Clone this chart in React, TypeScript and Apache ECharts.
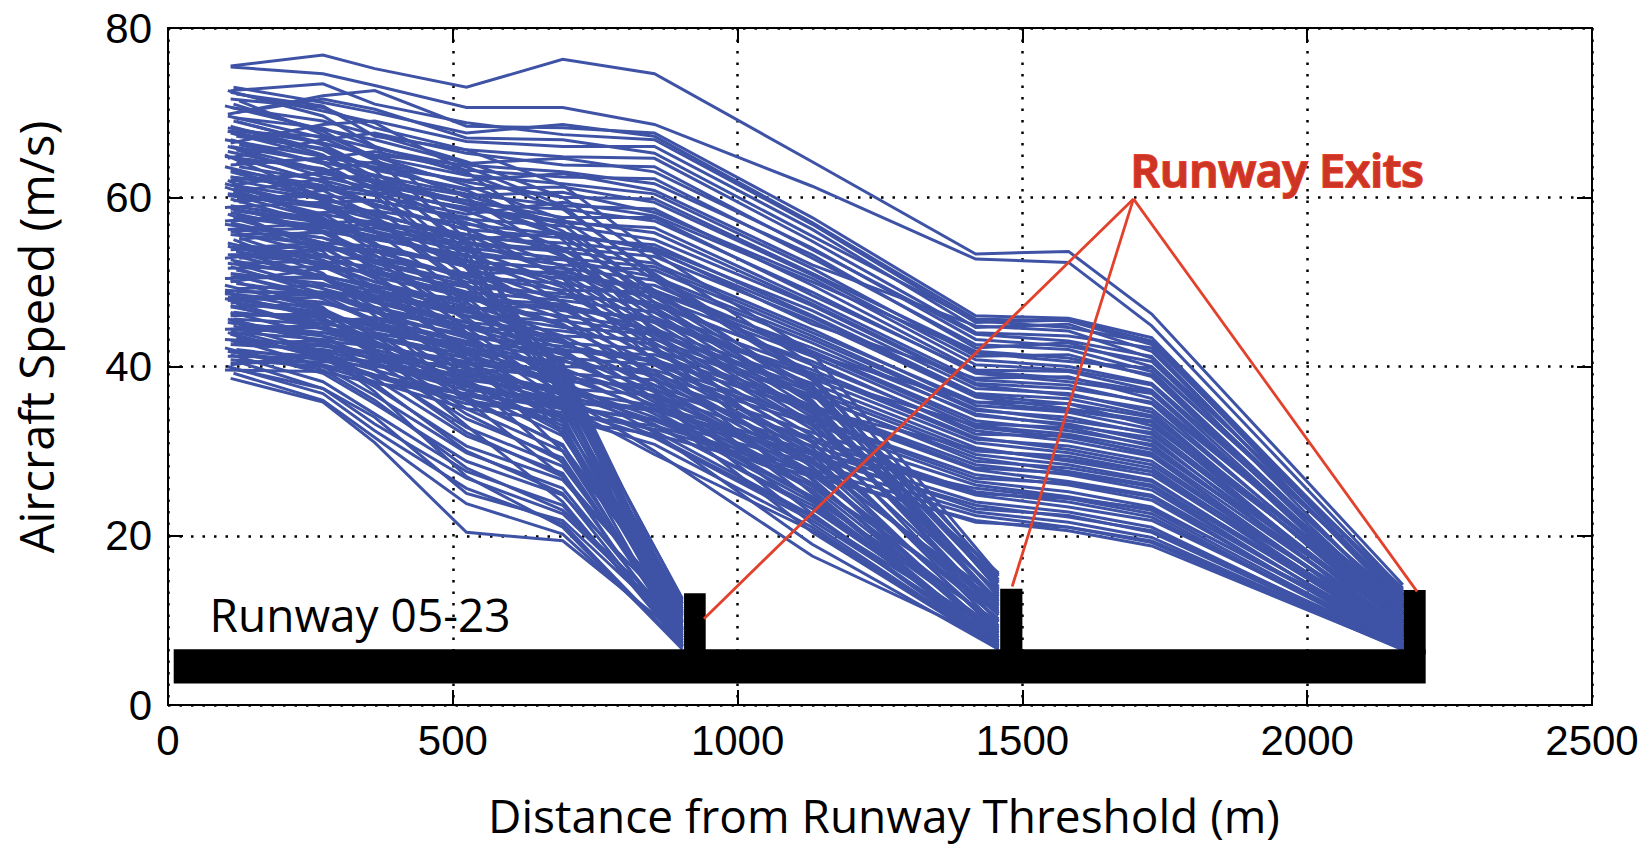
import React, { useEffect, useRef } from "react";
import * as echarts from "echarts";

// ---------- axis ticks ----------
const X_MIN = 0;
const X_MAX = 2500;
const X_STEP = 500;
const Y_MIN = 0;
const Y_MAX = 80;
const Y_STEP = 20;

// ---------- sampled distances (m) ----------
const EXIT1_STEPS = [272, 363, 524, 693];
const EXIT1_END = 903;
const EXIT2_STEPS = [272, 363, 524, 693, 854, 1131];
const EXIT2_END = 1458;
const EXIT3_STEPS = [272, 363, 524, 693, 854, 1131, 1418, 1581, 1727];
const EXIT3_END = 2168;

// rows: [start distance, start speed, speeds at steps..., speed at exit]
const EXIT1_RUNS = [
  [110, 38.6, 35.8, 31.0, 20.4, 19.4, 8.0],
  [115, 39.2, 36.0, 31.6, 23.8, 20.2, 7.2],
  [105, 40.0, 36.8, 32.4, 25.6, 21.4, 6.8],
  [120, 40.6, 37.4, 33.2, 26.8, 22.6, 9.0],
  [110, 41.4, 38.2, 34.4, 27.6, 23.6, 7.6],
  [100, 42.2, 39.2, 35.6, 28.8, 24.8, 10.2],
  [125, 43.0, 40.0, 36.6, 29.8, 25.6, 8.4],
  [110, 43.8, 41.0, 37.6, 30.6, 26.6, 11.0],
  [115, 44.8, 41.8, 38.6, 31.8, 27.4, 7.0],
  [105, 45.6, 42.8, 39.6, 32.8, 28.2, 9.6],
  [110, 46.4, 43.6, 40.6, 33.8, 29.2, 8.2],
  [120, 47.4, 44.6, 41.8, 35.0, 30.0, 11.8],
  [110, 48.4, 45.6, 42.8, 36.0, 30.8, 7.4],
  [100, 49.6, 46.8, 44.0, 37.2, 31.8, 10.6],
  [115, 50.8, 48.0, 45.2, 38.4, 32.6, 8.8],
  [125, 52.0, 49.2, 46.6, 39.6, 33.4, 12.2],
  [110, 53.2, 50.6, 47.8, 40.8, 34.2, 7.8],
  [105, 54.6, 51.8, 49.2, 42.0, 35.0, 9.2],
  [110, 56.0, 53.2, 50.4, 43.4, 35.8, 11.4],
  [120, 57.4, 54.6, 51.8, 44.6, 36.6, 6.9],
  [110, 58.8, 56.0, 53.2, 45.8, 37.4, 10.0],
  [115, 60.2, 57.4, 54.6, 47.0, 38.2, 8.6],
  [100, 61.6, 58.8, 56.0, 48.2, 39.0, 12.4],
  [110, 63.0, 60.2, 57.4, 49.4, 39.6, 7.6],
  [125, 64.6, 61.8, 58.8, 50.6, 40.0, 9.8],
  [105, 66.0, 63.2, 60.2, 51.6, 38.0, 11.2],
  [110, 67.6, 64.8, 61.6, 52.8, 36.4, 8.0],
  [120, 69.0, 66.2, 63.2, 53.6, 34.8, 10.4],
  [110, 46.0, 46.2, 43.0, 38.0, 33.0, 9.0],
  [115, 55.0, 51.0, 46.0, 36.0, 27.0, 7.3],
  [105, 62.0, 57.0, 51.0, 41.0, 30.0, 8.4],
  [110, 50.2, 47.0, 42.0, 33.0, 24.0, 7.0],
  [120, 58.0, 53.6, 48.0, 38.6, 28.6, 9.4],
  [100, 65.0, 60.0, 54.0, 44.0, 32.0, 10.8],
  [110, 44.2, 41.6, 37.0, 27.0, 21.0, 6.6],
  [115, 71.0, 67.8, 64.6, 55.0, 37.0, 12.0],
  [110, 39.8, 37.4, 34.0, 25.0, 21.8, 8.6],
  [105, 41.8, 39.6, 36.0, 28.0, 23.0, 9.6],
  [120, 43.4, 41.4, 38.0, 30.0, 25.0, 7.4],
  [110, 45.2, 43.0, 39.8, 32.2, 27.0, 10.8],
  [115, 47.0, 45.0, 41.4, 34.4, 28.8, 8.0],
  [100, 48.8, 46.6, 43.6, 36.4, 30.6, 11.6],
  [125, 50.6, 48.4, 45.4, 38.2, 32.2, 7.2],
  [110, 52.6, 50.4, 47.0, 40.0, 33.8, 9.8],
  [105, 54.2, 52.0, 49.0, 41.8, 35.4, 12.0],
  [120, 56.4, 54.0, 50.8, 43.8, 36.8, 8.2],
  [110, 58.2, 55.8, 52.6, 45.4, 38.0, 10.6],
  [115, 60.6, 58.0, 54.6, 47.6, 39.2, 7.0],
  [100, 63.6, 60.8, 57.8, 49.8, 40.4, 11.0],
  [110, 66.8, 64.0, 60.8, 52.0, 39.4, 9.0],
  [120, 68.2, 65.6, 62.4, 54.4, 38.6, 12.6],
  [105, 72.6, 69.6, 66.0, 56.4, 36.0, 8.8],
];

const EXIT2_RUNS = [
  [110, 70.6, 69.0, 67.4, 64.2, 60.0, 52.4, 40.2, 14.8],
  [115, 69.4, 68.2, 66.0, 62.8, 58.6, 51.0, 39.0, 13.6],
  [105, 68.2, 66.4, 64.8, 61.4, 57.4, 50.2, 38.4, 15.2],
  [120, 67.2, 65.8, 63.4, 60.8, 56.0, 49.0, 37.2, 12.8],
  [110, 66.0, 64.2, 62.6, 59.2, 55.4, 48.2, 36.8, 14.0],
  [100, 64.8, 63.4, 61.2, 58.4, 54.0, 47.0, 35.6, 11.8],
  [125, 63.6, 62.0, 60.4, 57.0, 53.2, 46.4, 35.0, 13.2],
  [110, 62.4, 61.2, 59.0, 56.2, 51.8, 45.2, 34.0, 10.8],
  [115, 61.4, 59.8, 58.2, 54.8, 51.0, 44.6, 33.4, 12.4],
  [105, 60.2, 58.8, 56.6, 54.0, 49.8, 43.4, 32.6, 9.8],
  [110, 59.0, 57.4, 55.8, 52.6, 48.8, 42.8, 31.8, 11.6],
  [120, 57.8, 56.6, 54.4, 51.8, 47.6, 41.8, 31.2, 9.2],
  [100, 56.8, 55.2, 53.6, 50.4, 46.8, 41.0, 30.4, 10.6],
  [110, 55.6, 54.4, 52.2, 49.6, 45.6, 40.2, 29.6, 8.6],
  [125, 54.4, 53.0, 51.4, 48.2, 44.8, 39.4, 29.0, 12.0],
  [115, 53.2, 52.2, 50.0, 47.4, 43.6, 38.6, 28.2, 8.0],
  [105, 52.2, 50.8, 49.2, 46.0, 42.8, 37.8, 27.6, 10.2],
  [110, 51.0, 49.8, 47.8, 45.2, 41.6, 37.0, 26.8, 7.6],
  [120, 49.8, 48.6, 47.0, 44.0, 40.8, 36.2, 26.2, 9.4],
  [100, 48.6, 47.6, 45.6, 43.0, 39.8, 35.4, 25.4, 7.2],
  [110, 47.6, 46.2, 44.8, 41.8, 38.8, 34.8, 24.6, 8.8],
  [115, 46.4, 45.4, 43.4, 41.0, 37.8, 34.0, 24.0, 7.0],
  [105, 45.2, 44.0, 42.6, 39.8, 36.8, 33.2, 23.2, 8.2],
  [125, 44.0, 43.2, 41.2, 38.8, 35.8, 32.4, 22.4, 6.8],
  [110, 43.0, 41.8, 40.4, 37.6, 35.0, 31.6, 21.8, 7.8],
  [120, 42.0, 40.8, 39.0, 36.6, 34.0, 30.8, 21.0, 6.6],
  [110, 72.4, 70.2, 68.8, 63.0, 55.0, 44.0, 28.0, 7.4],
  [105, 65.4, 63.0, 61.8, 56.4, 50.4, 40.6, 25.0, 6.9],
  [115, 58.4, 57.0, 56.0, 52.0, 46.0, 37.0, 22.6, 7.1],
  [100, 50.4, 50.6, 49.6, 46.6, 42.0, 35.0, 20.4, 6.7],
  [110, 46.2, 46.0, 45.0, 42.2, 38.0, 32.2, 19.0, 6.6],
  [120, 44.6, 43.6, 42.4, 40.4, 36.6, 30.0, 17.6, 7.3],
  [110, 48.0, 48.6, 48.8, 48.0, 47.4, 44.2, 34.6, 15.6],
  [125, 52.8, 53.8, 53.6, 52.4, 51.6, 46.8, 37.8, 14.4],
  [105, 41.2, 41.0, 40.6, 40.2, 39.6, 36.4, 28.6, 12.6],
  [115, 56.0, 56.4, 55.4, 54.6, 53.8, 47.6, 36.0, 13.0],
  [110, 71.6, 70.6, 68.2, 65.6, 61.4, 53.4, 41.6, 15.4],
  [105, 67.8, 67.2, 65.8, 63.6, 59.0, 50.6, 38.8, 13.8],
  [120, 64.0, 64.6, 64.0, 60.2, 56.8, 48.6, 37.4, 14.6],
  [110, 62.0, 62.8, 61.8, 59.6, 55.6, 47.6, 35.8, 12.2],
  [115, 59.6, 60.2, 59.6, 57.6, 53.0, 45.8, 34.4, 11.0],
  [100, 57.2, 58.0, 57.0, 55.6, 50.6, 43.8, 33.0, 13.4],
  [125, 55.0, 56.0, 55.0, 53.2, 49.4, 42.2, 31.0, 10.0],
  [110, 53.8, 54.2, 52.6, 51.0, 47.0, 40.8, 30.0, 11.2],
  [105, 51.6, 51.8, 51.0, 48.6, 45.0, 39.0, 28.8, 9.0],
  [120, 49.2, 49.6, 48.4, 46.8, 43.0, 37.4, 27.2, 10.8],
  [110, 47.0, 47.4, 46.4, 44.6, 41.4, 35.8, 25.8, 8.4],
  [115, 45.6, 45.0, 44.4, 42.6, 39.4, 34.4, 24.4, 9.8],
  [100, 44.4, 44.6, 43.6, 41.4, 38.2, 33.0, 23.6, 7.6],
  [125, 43.2, 42.4, 41.6, 39.4, 36.2, 31.8, 22.2, 8.6],
  [110, 42.6, 42.0, 41.0, 38.0, 35.4, 29.6, 20.6, 7.0],
  [105, 69.6, 67.0, 64.4, 60.0, 53.0, 42.4, 26.6, 8.0],
  [115, 61.0, 59.0, 57.4, 53.8, 47.6, 38.4, 24.2, 7.5],
  [120, 53.6, 52.0, 51.0, 48.4, 43.2, 36.2, 21.4, 6.8],
  [110, 40.4, 40.6, 40.0, 39.0, 37.2, 33.6, 26.0, 11.4],
];

const EXIT3_RUNS = [
  [110, 75.5, 76.8, 75.2, 73.0, 76.3, 74.6, 64.2, 53.3, 53.6, 46.2, 14.2],
  [110, 75.4, 74.6, 73.2, 70.6, 70.6, 68.6, 61.3, 52.7, 52.3, 44.8, 13.6],
  [105, 69.8, 72.0, 72.6, 68.4, 68.2, 67.6, 57.6, 46.0, 45.7, 43.4, 12.9],
  [115, 73.0, 71.2, 70.0, 67.6, 68.6, 67.2, 57.0, 45.6, 45.4, 42.6, 13.4],
  [110, 66.4, 68.6, 69.0, 66.6, 66.0, 66.0, 56.2, 44.6, 45.0, 41.8, 12.2],
  [120, 72.2, 70.8, 67.2, 65.6, 64.8, 64.6, 54.8, 44.0, 43.6, 42.2, 11.8],
  [100, 70.8, 68.0, 66.8, 64.0, 64.6, 63.0, 54.0, 43.2, 42.4, 40.6, 12.6],
  [110, 63.8, 64.6, 65.4, 63.2, 62.4, 62.2, 52.8, 42.6, 42.0, 39.4, 11.4],
  [125, 71.4, 67.4, 64.8, 62.6, 61.6, 60.4, 51.6, 41.2, 41.4, 38.8, 10.8],
  [105, 67.8, 65.6, 63.2, 61.0, 61.2, 59.4, 50.8, 40.8, 40.0, 38.0, 12.0],
  [115, 60.6, 62.2, 62.6, 60.4, 59.0, 58.6, 49.6, 39.6, 39.4, 37.2, 10.4],
  [110, 68.4, 65.0, 61.6, 59.2, 58.6, 57.2, 48.8, 39.2, 38.2, 36.8, 11.2],
  [120, 65.6, 62.4, 61.0, 58.6, 57.0, 56.4, 47.8, 38.4, 37.8, 35.6, 9.8],
  [100, 58.8, 59.4, 59.6, 57.4, 56.6, 55.0, 47.2, 37.8, 36.6, 35.0, 10.6],
  [110, 64.8, 61.8, 59.2, 56.2, 55.2, 54.4, 46.0, 36.8, 36.2, 34.2, 9.6],
  [115, 62.0, 60.0, 57.8, 55.6, 54.0, 53.0, 45.4, 36.4, 35.0, 33.6, 10.2],
  [105, 56.2, 57.0, 57.2, 54.4, 53.6, 52.2, 44.4, 35.4, 34.6, 32.6, 9.4],
  [125, 63.0, 59.6, 56.0, 53.6, 52.0, 51.4, 43.6, 35.0, 33.6, 32.2, 9.0],
  [110, 59.8, 56.8, 55.4, 52.4, 51.6, 50.2, 42.8, 34.2, 33.2, 31.2, 9.8],
  [120, 54.0, 54.6, 54.2, 51.8, 50.4, 49.6, 41.8, 33.6, 32.4, 30.8, 8.8],
  [100, 61.2, 57.6, 53.6, 50.6, 49.8, 48.2, 41.2, 32.8, 31.6, 29.8, 9.2],
  [110, 57.0, 54.6, 52.4, 50.0, 48.2, 47.6, 40.2, 32.4, 31.2, 29.4, 8.4],
  [115, 52.2, 52.4, 51.8, 48.8, 47.8, 46.4, 39.6, 31.6, 30.2, 28.4, 8.8],
  [105, 58.0, 54.2, 50.6, 48.2, 46.6, 45.8, 38.6, 31.0, 29.8, 28.0, 8.0],
  [125, 55.2, 52.0, 50.0, 47.0, 46.0, 44.4, 38.0, 30.4, 28.8, 27.2, 8.6],
  [110, 50.6, 50.4, 48.8, 46.4, 44.6, 43.8, 37.0, 29.6, 28.4, 26.6, 7.8],
  [120, 53.6, 50.6, 48.2, 45.2, 44.2, 42.6, 36.4, 29.2, 27.6, 26.0, 8.2],
  [100, 49.0, 48.4, 47.0, 44.6, 42.8, 42.0, 35.4, 28.4, 27.2, 25.4, 7.6],
  [110, 51.8, 48.6, 46.4, 43.4, 42.4, 40.8, 34.8, 27.8, 26.4, 24.8, 8.0],
  [115, 46.2, 46.0, 45.2, 42.8, 41.0, 40.2, 33.8, 27.2, 26.0, 24.2, 7.4],
  [105, 48.2, 46.2, 44.6, 41.6, 40.6, 39.0, 33.2, 26.4, 25.2, 23.4, 7.8],
  [125, 44.8, 44.6, 43.4, 41.0, 39.2, 38.4, 32.2, 26.0, 24.6, 23.0, 7.2],
  [110, 47.2, 44.4, 42.8, 39.8, 38.8, 37.2, 31.6, 25.2, 24.0, 22.2, 7.0],
  [120, 46.2, 45.8, 42.0, 39.2, 37.4, 36.6, 30.6, 24.8, 23.4, 21.8, 7.6],
  [100, 43.2, 42.6, 41.6, 38.4, 37.0, 35.4, 30.0, 24.0, 22.8, 21.0, 6.8],
  [110, 45.6, 42.8, 40.8, 37.8, 35.8, 34.8, 29.2, 23.6, 22.2, 20.6, 7.2],
  [115, 41.8, 41.2, 39.6, 36.6, 35.4, 33.6, 28.6, 22.8, 21.6, 19.8, 6.6],
  [105, 44.0, 41.0, 39.0, 36.0, 34.2, 33.0, 27.8, 22.4, 21.0, 19.4, 7.0],
  [110, 40.8, 40.0, 38.2, 35.0, 33.6, 32.0, 27.0, 21.8, 20.6, 18.8, 6.6],
  [110, 62.4, 61.0, 60.2, 58.0, 59.4, 57.8, 50.0, 41.6, 40.6, 39.8, 13.0],
  [115, 57.6, 56.4, 56.8, 55.0, 55.8, 53.8, 45.0, 38.6, 38.8, 36.2, 11.6],
  [105, 53.2, 53.0, 52.6, 51.0, 51.2, 49.0, 41.4, 35.8, 35.6, 33.0, 10.8],
  [120, 48.8, 48.8, 48.0, 46.8, 47.2, 45.2, 38.8, 33.0, 32.0, 30.2, 10.0],
  [110, 44.4, 44.0, 43.8, 42.6, 42.0, 40.6, 35.0, 30.2, 29.0, 27.6, 9.4],
  [100, 39.6, 39.4, 38.0, 36.8, 35.0, 33.8, 29.8, 25.6, 24.4, 23.2, 8.4],
  [125, 66.2, 64.0, 63.6, 62.0, 62.8, 60.8, 52.0, 44.8, 44.2, 41.0, 13.8],
  [110, 72.6, 73.4, 71.0, 68.8, 67.4, 66.8, 56.8, 45.2, 45.5, 43.0, 13.1],
  [120, 70.0, 71.6, 70.4, 67.0, 66.8, 65.2, 55.4, 45.4, 44.6, 42.8, 12.4],
  [105, 64.6, 66.8, 67.6, 65.2, 63.8, 63.6, 53.8, 43.8, 43.0, 41.2, 11.0],
  [115, 69.0, 66.4, 65.0, 63.8, 63.0, 61.6, 53.2, 42.2, 42.8, 40.0, 12.8],
  [110, 61.4, 63.0, 64.2, 61.8, 60.0, 59.8, 51.0, 41.8, 41.0, 39.0, 11.6],
  [100, 66.8, 64.8, 62.0, 60.2, 60.6, 58.2, 50.4, 40.2, 39.6, 37.8, 10.6],
  [125, 59.4, 60.8, 61.4, 59.6, 57.6, 57.6, 48.4, 39.4, 38.6, 37.0, 10.0],
  [110, 63.2, 61.4, 60.6, 58.8, 57.2, 55.8, 47.4, 38.0, 37.4, 35.8, 11.8],
  [115, 57.2, 58.2, 58.4, 56.8, 55.6, 54.0, 46.6, 37.4, 36.8, 34.6, 9.2],
  [105, 60.4, 59.2, 58.0, 55.2, 54.6, 53.6, 45.8, 36.6, 35.6, 34.0, 10.8],
  [120, 55.6, 55.8, 56.4, 54.0, 52.8, 51.8, 44.0, 35.8, 34.8, 33.4, 8.6],
  [110, 58.6, 57.2, 55.2, 53.0, 52.6, 50.6, 43.2, 34.8, 34.0, 32.0, 9.6],
  [100, 52.8, 54.0, 53.8, 52.0, 50.8, 49.0, 42.2, 34.4, 33.0, 31.6, 8.2],
  [125, 56.4, 55.2, 53.0, 50.8, 49.0, 48.8, 41.6, 33.2, 32.8, 30.6, 9.0],
  [110, 50.0, 51.6, 51.2, 49.4, 48.6, 47.2, 40.6, 32.0, 31.8, 29.6, 8.0],
  [115, 54.4, 52.6, 49.4, 47.8, 47.0, 45.4, 39.2, 31.4, 30.6, 28.8, 8.8],
  [105, 47.8, 48.2, 48.4, 46.0, 45.4, 44.0, 37.4, 30.0, 29.4, 27.6, 7.6],
  [120, 51.4, 49.2, 47.6, 44.8, 43.6, 43.2, 36.6, 28.8, 28.0, 26.4, 8.4],
  [110, 43.8, 45.2, 45.8, 43.8, 41.8, 41.4, 35.2, 28.0, 27.4, 25.8, 7.2],
  [100, 48.0, 46.4, 44.0, 42.2, 40.0, 39.6, 33.6, 26.8, 26.2, 24.6, 7.0],
  [115, 42.8, 43.0, 42.4, 40.6, 38.2, 37.8, 31.2, 25.0, 24.4, 22.6, 6.9],
  [110, 40.2, 41.4, 40.2, 37.2, 36.2, 35.0, 29.6, 23.2, 22.4, 20.4, 6.7],
  [125, 41.6, 40.2, 38.8, 35.6, 34.6, 32.6, 27.4, 21.6, 21.0, 19.2, 6.5],
];

// runway and exit taxiways: [x from, x to, y from, y to]
const RUNWAY_BLOCKS = [
  [10, 2208, 2.55, 6.6],
  [906, 944, 6.0, 13.2],
  [1461, 1500, 6.0, 13.75],
  [2169, 2208, 6.0, 13.6],
];

// callout "Runway Exits": apex and the three tips
const CALLOUT_APEX = [1695, 59.8];
const CALLOUT_TIPS = [
  [941, 10.2],
  [1482, 14.0],
  [2193, 13.4],
];

const BLUE = "#3f53a6";
const RED = "#e2412b";

function buildRuns(rows: number[][], steps: number[], end: number) {
  return rows.map((r) => {
    const coords: number[][] = [[r[0], r[1]]];
    steps.forEach((d, i) => coords.push([d, r[i + 2]]));
    coords.push([end, r[r.length - 1]]);
    return { coords };
  });
}

export default function App() {
  const ref = useRef<HTMLDivElement>(null);

  useEffect(() => {
    if (!ref.current) return;
    const chart = echarts.init(ref.current, undefined, { renderer: "svg" });

    const runs = [
      ...buildRuns(EXIT1_RUNS, EXIT1_STEPS, EXIT1_END),
      ...buildRuns(EXIT2_RUNS, EXIT2_STEPS, EXIT2_END),
      ...buildRuns(EXIT3_RUNS, EXIT3_STEPS, EXIT3_END),
    ];

    const axisLine = { show: true, onZero: false, lineStyle: { color: "#000", width: 2 } };
    const axisTick = { show: true, inside: true, length: 15, lineStyle: { color: "#000", width: 2 } };
    const grid = { show: true, lineStyle: { color: "#000", width: 2.5, type: [2.5, 9] } };
    const tickFont = {
      color: "#000", fontFamily: "Liberation Sans", fontSize: 42,
      formatter: (v: number) => String(v),
    };

    chart.setOption({
      animation: false,
      backgroundColor: "#ffffff",
      grid: { left: 168, right: 52, top: 28, bottom: 144, containLabel: false },
      xAxis: [
        {
          type: "value", min: X_MIN, max: X_MAX, interval: X_STEP, position: "bottom",
          axisLine, axisTick, splitLine: grid,
          axisLabel: { ...tickFont, margin: 14 },
        },
        {
          type: "value", min: X_MIN, max: X_MAX, interval: X_STEP, position: "top",
          axisLine, axisTick, splitLine: { show: false }, axisLabel: { show: false },
        },
      ],
      yAxis: [
        {
          type: "value", min: Y_MIN, max: Y_MAX, interval: Y_STEP, position: "left",
          axisLine, axisTick, splitLine: grid,
          axisLabel: { ...tickFont, margin: 16 },
        },
        {
          type: "value", min: Y_MIN, max: Y_MAX, interval: Y_STEP, position: "right",
          axisLine, axisTick, splitLine: { show: false }, axisLabel: { show: false },
        },
      ],
      graphic: [
        {
          type: "text", x: 884, y: 815, silent: true,
          style: {
            text: "Distance from Runway Threshold (m)", fill: "#000",
            font: '46px "Open Sans"', textAlign: "center", textVerticalAlign: "middle",
            align: "center", verticalAlign: "middle",
          },
        },
        {
          type: "text", x: 36, y: 337, rotation: Math.PI / 2, silent: true,
          style: {
            text: "Aircraft Speed (m/s)", fill: "#000",
            font: '47px "Open Sans"', textAlign: "center", textVerticalAlign: "middle",
            align: "center", verticalAlign: "middle",
          },
        },
      ],
      series: [
        {
          type: "lines", coordinateSystem: "cartesian2d", polyline: true, silent: true,
          xAxisIndex: 0, yAxisIndex: 0, z: 2,
          lineStyle: { color: BLUE, width: 3, opacity: 1 },
          data: runs,
        },
        {
          type: "custom", silent: true, z: 3, xAxisIndex: 0, yAxisIndex: 0,
          encode: { x: [0, 1], y: [2, 3] },
          renderItem: (_params: any, api: any) => {
            const p0 = api.coord([api.value(0), api.value(3)]);
            const p1 = api.coord([api.value(1), api.value(2)]);
            return {
              type: "rect",
              shape: { x: p0[0], y: p0[1], width: p1[0] - p0[0], height: p1[1] - p0[1] },
              style: { fill: "#000" },
            };
          },
          data: RUNWAY_BLOCKS,
        },
        {
          type: "lines", coordinateSystem: "cartesian2d", silent: true, z: 4,
          xAxisIndex: 0, yAxisIndex: 0,
          lineStyle: { color: RED, width: 2.8, opacity: 1 },
          data: CALLOUT_TIPS.map((t) => ({ coords: [CALLOUT_APEX, t] })),
        },
        {
          type: "scatter", silent: true, z: 5, symbolSize: 0,
          itemStyle: { color: "#000000", opacity: 1 },
          data: [[73, 10.8]],
          label: {
            show: true, position: "right", distance: 0, formatter: "Runway 05-23",
            fontFamily: "Open Sans", fontSize: 46, fontWeight: 500, color: "#000000",
            opacity: 1,
          },
        },
        {
          type: "scatter", silent: true, z: 5, symbolSize: 0,
          itemStyle: { color: RED, opacity: 1 },
          data: [[1690, 63.3]],
          label: {
            show: true, position: "right", distance: 0, formatter: "Runway Exits",
            fontFamily: "Open Sans", fontSize: 46, fontWeight: 600, color: "#cc3526",
            textBorderColor: "#e8402a", textBorderWidth: 2, opacity: 1,
          },
        },
      ],
    });

    return () => chart.dispose();
  }, []);

  return (
    <div
      ref={ref}
      style={{ position: "fixed", left: 0, top: 0, width: "1644px", height: "849px" }}
    />
  );
}
